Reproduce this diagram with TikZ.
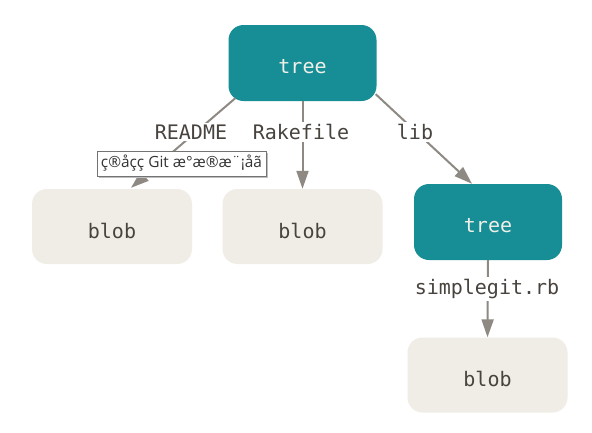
\documentclass[tikz,border=0pt]{standalone}
\usepackage{fontspec}
\setmonofont{DejaVu Sans Mono}
\newfontfamily\tipfont{Open Sans}
\usetikzlibrary{arrows.meta,calc,positioning}
\definecolor{teal1}{RGB}{23,142,150}
\definecolor{blobfill}{RGB}{239,237,230}
\definecolor{labtext}{RGB}{72,67,62}
\definecolor{treetext}{RGB}{240,240,232}
\definecolor{edgegray}{RGB}{142,137,131}
\tikzset{
  treebox/.style={fill=teal1, rounded corners=15pt, minimum width=148pt, minimum height=76pt, inner sep=0pt, text=treetext, font=\fontsize{20}{22}\selectfont\ttfamily},
  blobbox/.style={fill=blobfill, rounded corners=15pt, minimum width=160pt, minimum height=75pt, inner sep=0pt, text=labtext, font=\fontsize{20}{22}\selectfont\ttfamily},
  edgelabel/.style={fill=white, inner sep=2pt, text=labtext, font=\fontsize{20}{22}\selectfont\ttfamily},
  arr/.style={draw=edgegray, line width=2pt, -{Triangle[length=18pt,width=12pt]}},
  tipbox/.style={draw=black!55, fill=white, line width=0.8pt, minimum width=169pt, minimum height=25pt, inner sep=0pt, text=black!80, font=\fontsize{15.4}{17}\selectfont\tipfont}
}
\newcommand{\lowered}[1]{\raisebox{-4pt}[\height][\depth]{#1}}
\begin{document}
\begin{tikzpicture}[x=1pt,y=-1pt]
\useasboundingbox[fill=white] (0,0) rectangle (592,432);
\node[treebox] (tree1) at (302.5,63) {\lowered{tree}};
\node[blobbox] (blob1) at (112,226.5) {\lowered{blob}};
\node[blobbox] (blob2) at (302.5,226.5) {\lowered{blob}};
\node[treebox] (tree2) at (488,222) {\lowered{tree}};
\node[blobbox] (blob3) at (487.5,375) {\lowered{blob}};
% edges
\draw[arr] ($(tree1.south west)+(7,-3)$) -- ($(blob1.north)+(19,-1)$);
\draw[arr] (tree1.south) -- (blob2.north);
\draw[arr] ($(tree1.south east)+(-1,-7)$) -- ($(tree2.north)+(-16,0)$);
\draw[arr] (tree2.south) -- (blob3.north);
% labels
\node[edgelabel] (lreadme) at (191,132) {README};
\node[edgelabel] (lrake) at (301,132) {Rakefile};
\node[edgelabel] (llib) at (415,132) {lib};
\node[edgelabel] (lsimple) at (487,289) {simplegit.rb};
% tooltip
\fill[black!25] (99,153) rectangle (268,178);
\node[tipbox] (tip) at (181.5,163.5) {ç®åçç Git æ°æ®æ¨¡åã};
\end{tikzpicture}
\end{document}
